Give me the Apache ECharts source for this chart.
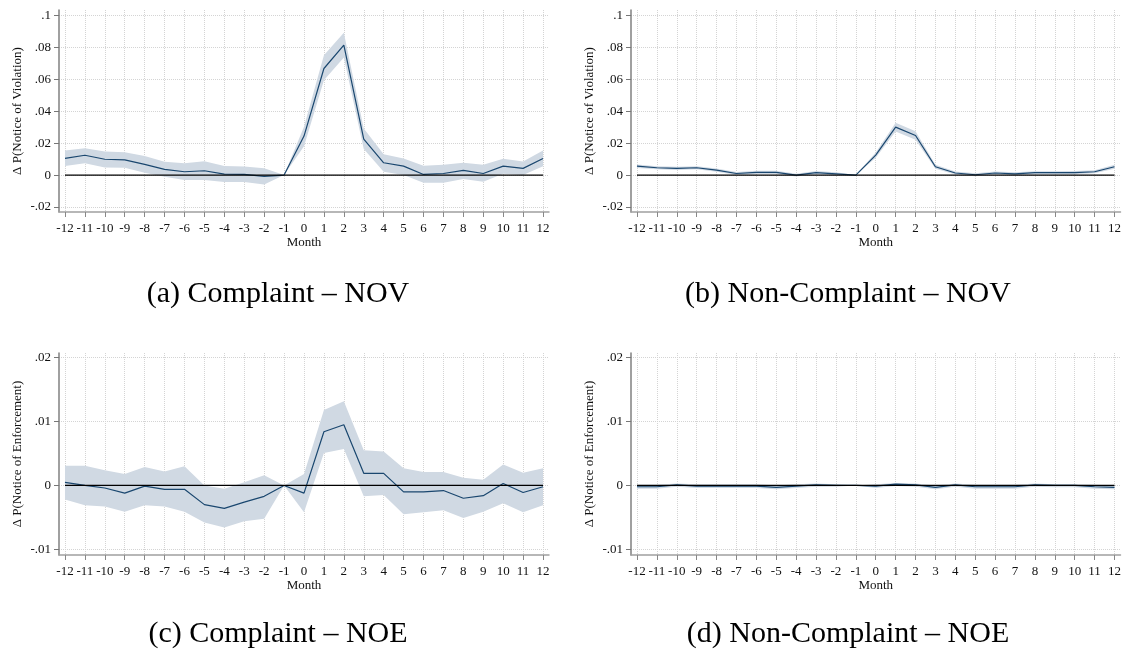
<!DOCTYPE html>
<html>
<head>
<meta charset="utf-8">
<script src="https://cdn.jsdelivr.net/npm/echarts@6/dist/echarts.min.js"></script>
<style>html,body{margin:0;padding:0;background:#fff}#c{width:1124px;height:651px}</style>
</head>
<body>
<div id="c"></div>
<script>
// ---- data ----
const months = [-12,-11,-10,-9,-8,-7,-6,-5,-4,-3,-2,-1,0,1,2,3,4,5,6,7,8,9,10,11,12];

// (a) Complaint – NOV
const aEst = [0.0105,0.0124,0.0099,0.0095,0.0067,0.0036,0.0021,0.0027,0.0006,0.0004,-0.0008,0,0.0244,0.0667,0.0813,0.0225,0.0077,0.0056,0.0004,0.0010,0.0029,0.0010,0.0056,0.0042,0.0104];
const aHi  = [0.0154,0.0168,0.0147,0.0143,0.0120,0.0084,0.0074,0.0086,0.0057,0.0053,0.0042,0,0.0302,0.0750,0.0890,0.0292,0.0131,0.0104,0.0058,0.0065,0.0077,0.0065,0.0102,0.0085,0.0154];
const aLo  = [0.0057,0.0074,0.0048,0.0046,0.0015,-0.0010,-0.0030,-0.0030,-0.0044,-0.0044,-0.0059,0,0.0181,0.0594,0.0735,0.0163,0.0021,0.0000,-0.0048,-0.0048,-0.0025,-0.0042,0.0008,0.0000,0.0056];

// (b) Non-Complaint – NOV
const bEst = [0.0056,0.0046,0.0042,0.0046,0.0031,0.0010,0.0017,0.0017,0.0000,0.0015,0.0008,0,0.0125,0.0300,0.0248,0.0052,0.0013,0.0002,0.0013,0.0008,0.0015,0.0015,0.0015,0.0021,0.0052];
const bHi  = [0.0067,0.0056,0.0052,0.0056,0.0041,0.0019,0.0027,0.0027,0.0009,0.0025,0.0017,0,0.0142,0.0328,0.0275,0.0064,0.0022,0.0011,0.0022,0.0017,0.0024,0.0024,0.0025,0.0031,0.0064];
const bLo  = [0.0045,0.0036,0.0032,0.0036,0.0021,0.0001,0.0007,0.0007,-0.0009,0.0005,-0.0001,0,0.0108,0.0272,0.0221,0.0040,0.0004,-0.0007,0.0004,-0.0001,0.0006,0.0006,0.0005,0.0011,0.0040];

// (c) Complaint – NOE
const cEst = [0.00047,0.0000,-0.0004,-0.0012,-0.0001,-0.0006,-0.0006,-0.0030,-0.0036,-0.0026,-0.0017,0,-0.0012,0.0084,0.0095,0.0019,0.0019,-0.0010,-0.0010,-0.0008,-0.0020,-0.0016,0.0003,-0.0011,-0.0002];
const cHi  = [0.0031,0.0031,0.0024,0.0018,0.0029,0.0022,0.0030,0.0000,-0.0005,0.0005,0.0016,0,0.0018,0.0118,0.0132,0.0055,0.0053,0.0027,0.0021,0.0021,0.0012,0.0009,0.0033,0.0020,0.0027];
const cLo  = [-0.0022,-0.0031,-0.0033,-0.0041,-0.0031,-0.0033,-0.0041,-0.0058,-0.0066,-0.0056,-0.0052,0,-0.0042,0.0051,0.0057,-0.0017,-0.0015,-0.0045,-0.0042,-0.0039,-0.0051,-0.0041,-0.0028,-0.0042,-0.0031];

// (d) Non-Complaint – NOE
const dEst = [-0.0002,-0.0002,0.0001,-0.0001,-0.0001,-0.0001,-0.0001,-0.0003,-0.0001,0.0001,0.0000,0,-0.0001,0.0002,0.0001,-0.0003,0.0001,-0.0002,-0.0002,-0.0002,0.0001,0.0000,0.0000,-0.0002,-0.0003];
const dHi  = [0.0001,0.0001,0.0003,0.0002,0.0002,0.0002,0.0002,0.0000,0.0002,0.0003,0.0002,0,0.0002,0.0004,0.0003,0.0000,0.0003,0.0001,0.0001,0.0001,0.0003,0.0002,0.0002,0.0001,0.0000];
const dLo  = [-0.0005,-0.0005,-0.0002,-0.0004,-0.0004,-0.0004,-0.0004,-0.0006,-0.0004,-0.0002,-0.0002,0,-0.0004,-0.0001,-0.0002,-0.0006,-0.0002,-0.0005,-0.0005,-0.0005,-0.0002,-0.0003,-0.0003,-0.0005,-0.0006];

const novTicks = [-0.02,0,0.02,0.04,0.06,0.08,0.1];
const noeTicks = [-0.01,0,0.01,0.02];
const novName = 'Δ P(Notice of Violation)';
const noeName = 'Δ P(Notice of Enforcement)';
const xName = 'Month';
const captions = ['(a) Complaint – NOV','(b) Non-Complaint – NOV','(c) Complaint – NOE','(d) Non-Complaint – NOE'];

// ---- layout / style ----
const FONT = '"Liberation Serif", "DejaVu Serif", serif';
const NAVY = '#1a476f';
const BAND = '#d0d9e3';
const panels = [
  {est:aEst, lo:aLo, hi:aHi, ticks:novTicks, name:novName, min:-0.0231, max:0.1033, left:59, top:10},
  {est:bEst, lo:bLo, hi:bHi, ticks:novTicks, name:novName, min:-0.0231, max:0.1033, left:631, top:10},
  {est:cEst, lo:cLo, hi:cHi, ticks:noeTicks, name:noeName, min:-0.01089, max:0.02074, left:59, top:353},
  {est:dEst, lo:dLo, hi:dHi, ticks:noeTicks, name:noeName, min:-0.01089, max:0.02074, left:631, top:353}
];
const capPos = [[278,294],[848,294],[278,634],[848,634]];

function fmtY(v){
  if (Math.abs(v) < 1e-12) return '0';
  const s = String(Math.round(v*1000)/1000);
  return s.replace('0.', '.');
}

const grids = [], xAxes = [], yAxes = [], series = [];
panels.forEach((p, k) => {
  grids.push({left:p.left, top:p.top, width:490, height:202});
  xAxes.push({
    type:'value', gridIndex:k, min:-12.3, max:12.3,
    name:xName, nameLocation:'middle', nameGap:21,
    nameTextStyle:{fontFamily:FONT, fontSize:13, color:'#111'},
    axisLine:{show:true, onZero:false, lineStyle:{color:'#a0a0a0', width:1.5}},
    axisTick:{show:true, length:5, inside:false, customValues:months, lineStyle:{color:'#888', width:1}},
    axisLabel:{customValues:months, margin:10, fontFamily:FONT, fontSize:13, color:'#111', formatter:v=>String(v)},
    splitLine:{show:true, lineStyle:{type:'dotted', color:'#d4d4d4', width:1}}
  });
  yAxes.push({
    type:'value', gridIndex:k, min:p.min, max:p.max,
    name:p.name, nameLocation:'middle', nameGap:35, nameRotate:90,
    nameTextStyle:{fontFamily:FONT, fontSize:13, color:'#111'},
    axisLine:{show:true, onZero:false, lineStyle:{color:'#808080', width:1.5}},
    axisTick:{show:true, length:5, inside:false, customValues:p.ticks, lineStyle:{color:'#777', width:1}},
    axisLabel:{customValues:p.ticks, margin:8, fontFamily:FONT, fontSize:13, color:'#111', formatter:fmtY},
    splitLine:{show:true, lineStyle:{type:'dotted', color:'#d4d4d4', width:1}}
  });
  const hi = p.hi, lo = p.lo;
  series.push({
    type:'custom', xAxisIndex:k, yAxisIndex:k, silent:true, z:1,
    data: months.map((m,i)=>[m, lo[i], hi[i]]),
    encode:{x:0, y:[1,2]},
    renderItem:function(params, api){
      if (params.dataIndex !== 0) return null;
      const pts = [];
      for (let i=0;i<months.length;i++) pts.push(api.coord([months[i], hi[i]]));
      for (let i=months.length-1;i>=0;i--) pts.push(api.coord([months[i], lo[i]]));
      return {type:'polygon', shape:{points:pts}, style:{fill:BAND}};
    }
  });
  series.push({
    type:'line', xAxisIndex:k, yAxisIndex:k, z:3, symbol:'none', silent:true,
    data: months.map((m,i)=>[m, p.est[i]]),
    lineStyle:{color:NAVY, width:1.2}
  });
  series.push({
    type:'line', xAxisIndex:k, yAxisIndex:k, z:4, symbol:'none', silent:true,
    data: [[months[0],0],[months[months.length-1],0]],
    lineStyle:{color:'#000', width:1.2}
  });
});

const graphic = captions.map((t,i)=>({
  type:'text', x:capPos[i][0], y:capPos[i][1],
  style:{text:t, font:'30px ' + FONT, fill:'#000', textAlign:'center', textVerticalAlign:'middle'}
}));

const chart = echarts.init(document.getElementById('c'), null, {renderer:'canvas'});
chart.setOption({
  animation:false,
  backgroundColor:'#fff',
  grid:grids, xAxis:xAxes, yAxis:yAxes, series:series, graphic:graphic
});
</script>
</body>
</html>
